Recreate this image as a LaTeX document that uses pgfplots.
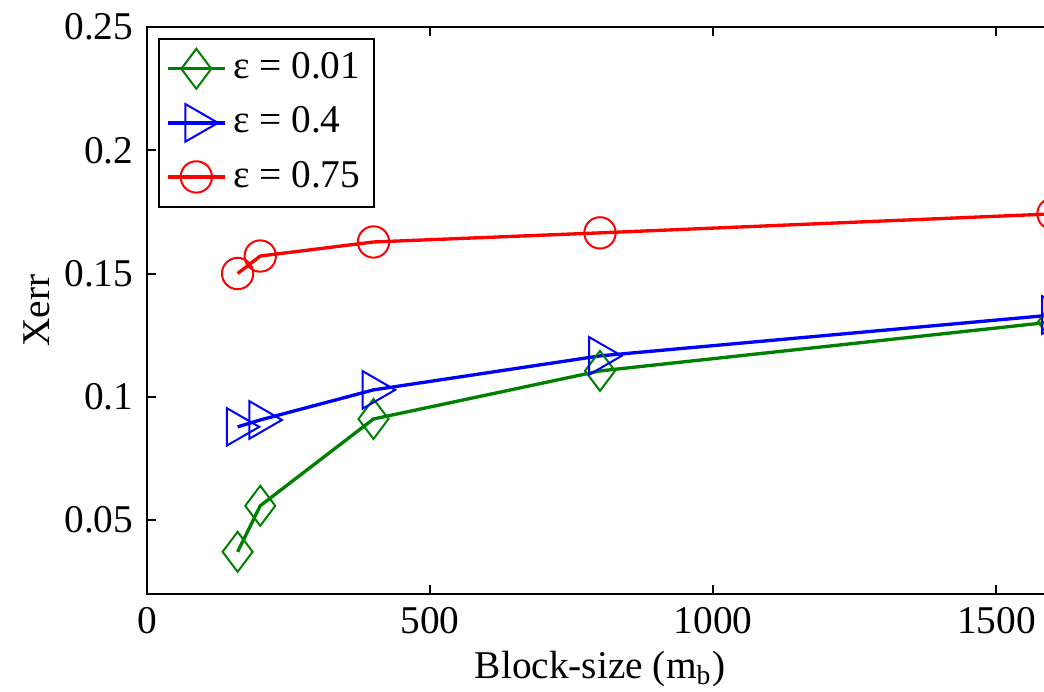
\documentclass[border=0pt]{standalone}
\usepackage{fontspec}
\setmainfont{Liberation Serif}
\usepackage{pgfplots}
\pgfplotsset{compat=1.18}
\definecolor{mgreen}{rgb}{0,0.5,0}
\definecolor{mblue}{rgb}{0,0,1}
\definecolor{mred}{rgb}{1,0,0}
\begin{document}
\fontsize{11.8pt}{14pt}\selectfont
\begin{tikzpicture}
\begin{axis}[name=ax, scale only axis, width=271.8pt, height=170.1pt,
  xmin=0, xmax=1600, ymin=0.02, ymax=0.25,
  xtick={0,500,1000,1500}, xticklabels={0,500,1000,1500},
  ytick={0.05,0.1,0.15,0.2,0.25}, yticklabels={0.05,0.1,0.15,0.2,0.25},
  tick align=inside, major tick length=2.8pt,
  axis line style={line width=0.6pt, black},
  every tick/.style={line width=0.6pt, black},
  /pgf/number format/assume math mode=true,
  ticklabel style={font=\fontsize{11.8pt}{14pt}\selectfont},
  label style={font=\fontsize{11.8pt}{14pt}\selectfont},
  xlabel={Block-size (m\textsubscript{b})}, ylabel={Xerr},
  xlabel style={yshift=3pt},
  ylabel style={yshift=-3.8pt},
  legend cell align=left,
  legend style={at={(0.012,0.981)}, anchor=north west, draw=black, line width=0.6pt,
    font=\fontsize{11.8pt}{14pt}\selectfont, row sep=2.6pt, inner sep=2.2pt},
]
\addplot[mgreen, line width=1pt, mark=diamond, mark size=6pt, mark options={line width=0.6pt, solid}]
  coordinates {(160,0.0371) (200,0.0558) (400,0.0910) (800,0.1105) (1600,0.1304)};
\addlegendentry{ε = 0.01}
\addplot[mblue, line width=1pt, mark=triangle, mark size=6.5pt, mark options={line width=0.6pt, solid, rotate=-90}]
  coordinates {(160,0.0878) (200,0.0906) (400,0.1028) (800,0.1166) (1600,0.1332)};
\addlegendentry{ε = 0.4}
\addplot[mred, line width=1pt, mark=o, mark size=4.7pt, mark options={line width=0.6pt, solid}]
  coordinates {(160,0.1500) (200,0.1571) (400,0.1628) (800,0.1665) (1600,0.1742)};
\addlegendentry{ε = 0.75}
\end{axis}
\pgfresetboundingbox
\path[use as bounding box] ([shift={(-44.1pt,-29.1pt)}]ax.south west) rectangle ([shift={(269.1pt,178.2pt)}]ax.south west);
\end{tikzpicture}
\end{document}
